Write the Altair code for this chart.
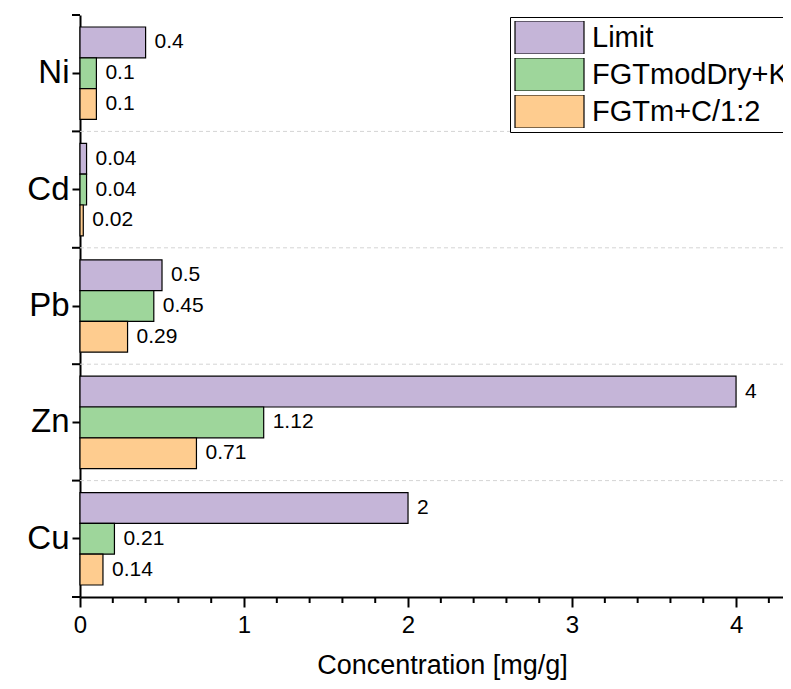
import altair as alt
import pandas as pd

elements = ["Ni", "Cd", "Pb", "Zn", "Cu"]
series = ["Limit", "FGTmodDry+K", "FGTm+C/1:2"]
limit_vals = [0.4, 0.04, 0.5, 4, 2]
dry_vals = [0.1, 0.04, 0.45, 1.12, 0.21]
cm_vals = [0.1, 0.02, 0.29, 0.71, 0.14]
limit_lbl = ["0.4", "0.04", "0.5", "4", "2"]
dry_lbl = ["0.1", "0.04", "0.45", "1.12", "0.21"]
cm_lbl = ["0.1", "0.02", "0.29", "0.71", "0.14"]
colors = ["#C5B5D8", "#9ED69B", "#FECC8F"]
major_ticks = [0, 1, 2, 3, 4]
minor_ticks = [0.2, 0.4, 0.6, 0.8, 1.2, 1.4, 1.6, 1.8, 2.2, 2.4, 2.6, 2.8,
               3.2, 3.4, 3.6, 3.8, 4.2]
x_max = 4.335

FONT = "Liberation Sans"

rows = []
for s, vals, lbls in zip(series, [limit_vals, dry_vals, cm_vals], [limit_lbl, dry_lbl, cm_lbl]):
    for e, v, l in zip(elements, vals, lbls):
        rows.append({"element": e, "series": s, "value": v, "label": l})
df = pd.DataFrame(rows)

grid_df = pd.DataFrame({"element": elements[1:]})
bound_df = pd.DataFrame({"element": elements})
bottom_df = pd.DataFrame({"element": [elements[-1]]})
minor_df = pd.DataFrame({"v": minor_ticks})

y_scale = alt.Scale(domain=elements, paddingInner=0, paddingOuter=0)
x_scale = alt.Scale(domain=[0, x_max], nice=False, zero=True)

y_enc = alt.Y(
    "element:N",
    scale=y_scale,
    sort=elements,
    axis=alt.Axis(
        title=None,
        labelFontSize=33,
        labelFont=FONT,
        labelColor="black",
        labelPadding=3,
        tickSize=8,
        tickWidth=2,
        tickColor="black",
        domainWidth=2,
        domainColor="black",
        grid=False,
    ),
)
x_enc = alt.X(
    "value:Q",
    scale=x_scale,
    axis=alt.Axis(
        title="Concentration [mg/g]",
        values=major_ticks,
        format="d",
        labelFontSize=24,
        labelFont=FONT,
        labelColor="black",
        labelFlush=False,
        labelPadding=6,
        tickSize=10,
        tickWidth=2,
        tickColor="black",
        domainWidth=2,
        domainColor="black",
        grid=False,
        titleFontSize=27,
        titleFont=FONT,
        titleFontWeight="normal",
        titleColor="black",
        titleX=362,
        titleY=76,
        titleBaseline="alphabetic",
    ),
)
yoff = alt.YOffset(
    "series:N",
    sort=series,
    scale=alt.Scale(domain=series, paddingOuter=0.39, paddingInner=0),
)

grid = alt.Chart(grid_df).mark_rule(color="#d4d4d4", strokeDash=[4, 3], strokeWidth=1).encode(
    y=alt.Y("element:N", bandPosition=0, scale=y_scale, sort=elements),
    x=alt.value(0),
    x2=alt.value(711),
)

bars = alt.Chart(df).mark_bar(stroke="black", strokeWidth=1.2, opacity=1).encode(
    y=y_enc,
    x=x_enc,
    yOffset=yoff,
    color=alt.Color(
        "series:N",
        scale=alt.Scale(domain=series, range=colors),
        legend=alt.Legend(
            title=None,
            orient="none",
            legendX=430,
            legendY=2,
            strokeColor="black",
            fillColor="white",
            padding=4,
            symbolType="M-1,-0.478H1V0.478H-1Z",
            symbolSize=4761,
            clipHeight=33,
            rowPadding=4,
            labelFontSize=29,
            labelFont=FONT,
            labelColor="black",
            labelLimit=500,
            labelOffset=7,
            symbolStrokeColor="black",
            symbolStrokeWidth=1.2,
            symbolOpacity=1,
        ),
    ),
)

texts = alt.Chart(df).mark_text(
    align="left", baseline="middle", dx=9, fontSize=21, font=FONT, color="black"
).encode(
    y=alt.Y("element:N", scale=y_scale, sort=elements),
    x=alt.X("value:Q", scale=x_scale),
    yOffset=yoff,
    text="label:N",
)

bticks = alt.Chart(bound_df).mark_rule(color="black", strokeWidth=2).encode(
    y=alt.Y("element:N", bandPosition=0, scale=y_scale, sort=elements),
    x=alt.value(-8),
    x2=alt.value(0),
)
bticks_bottom = alt.Chart(bottom_df).mark_rule(color="black", strokeWidth=2).encode(
    y=alt.Y("element:N", bandPosition=1, scale=y_scale, sort=elements),
    x=alt.value(-8),
    x2=alt.value(0),
)
minor = alt.Chart(minor_df).mark_rule(color="black", strokeWidth=2).encode(
    x=alt.X("v:Q", scale=x_scale),
    y=alt.value(582),
    y2=alt.value(588),
)

chart = alt.layer(grid, bars, texts, bticks, bticks_bottom, minor).properties(
    width=711,
    height=582,
    autosize=alt.AutoSizeParams(type="none"),
    padding={"left": 72, "top": 7, "right": -8, "bottom": 84},
).configure_view(stroke=None)

chart.save("out.html", embed_options={"renderer": "svg", "actions": False})
